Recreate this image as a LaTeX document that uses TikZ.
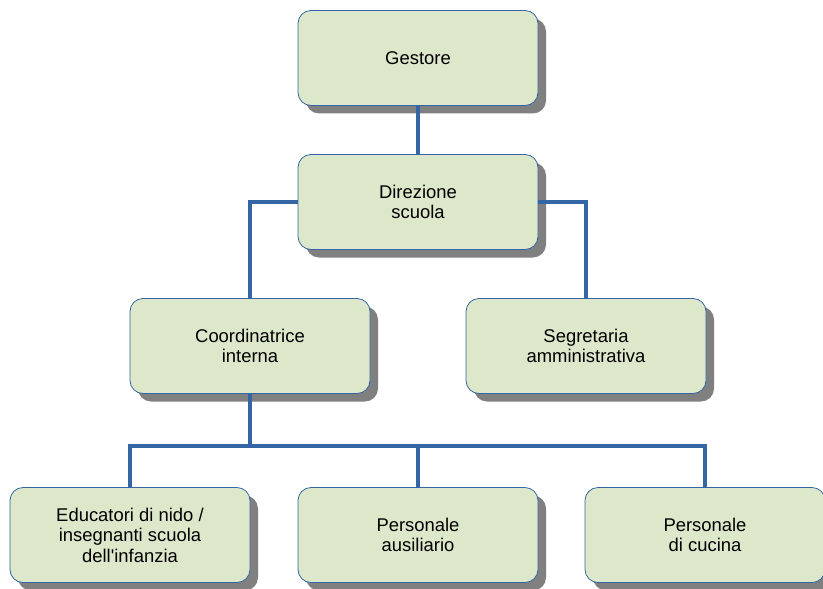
\documentclass[tikz,border=0pt]{standalone}
\usepackage{fontspec}
\setmainfont{Liberation Sans}[Ligatures=TeXOff]
\usetikzlibrary{positioning,shadows}
\definecolor{boxfill}{HTML}{DDE8CB}
\definecolor{linkblue}{HTML}{3465A4}
\definecolor{shadowgray}{HTML}{808080}

\begin{document}
\begin{tikzpicture}[x=1bp,y=1bp,node distance=144bp,
                    link/.style={draw=linkblue,line width=3.5bp}]
  \tikzstyle{box}=[rectangle,rounded corners=13bp,fill=boxfill,draw=linkblue,
    line width=0.8bp,minimum width=240bp,minimum height=95bp,align=center,
    font=\fontsize{18.5}{20.5}\selectfont,
    drop shadow={shadow xshift=8bp,shadow yshift=-8bp,fill=shadowgray,opacity=1}]
  \useasboundingbox (0,0) rectangle (823,-589);

  \node[box] (G) at (418,-58)            {Gestore};
  \node[box] (D) [below of=G]            {Direzione\\scuola};
  \node[box] (C) [below of=D, xshift=-168bp] {Coordinatrice\\interna};
  \node[box] (S) [below of=D, xshift=168bp]  {Segretaria\\amministrativa};

  \node[box] (P) [below of=D, node distance=333bp] {Personale\\ausiliario};
  \node[box] (E) [left of=P, node distance=288bp]  {Educatori di nido /\\insegnanti scuola\\dell'infanzia};
  \node[box] (K) [right of=P, node distance=287bp] {Personale\\di cucina};

  \coordinate (bus) at ([yshift=-100bp]C.center);

  % connectors
  \draw[link] (G.south) -- (D.north);
  \draw[link] (D.west) -| (C.north);
  \draw[link] (D.east) -| (S.north);
  \draw[link] (C.south) -- (bus) -| (E.north);
  \draw[link] (bus) -| (K.north);
  \draw[link] (bus -| P.north) -- (P.north);
\end{tikzpicture}
\end{document}
